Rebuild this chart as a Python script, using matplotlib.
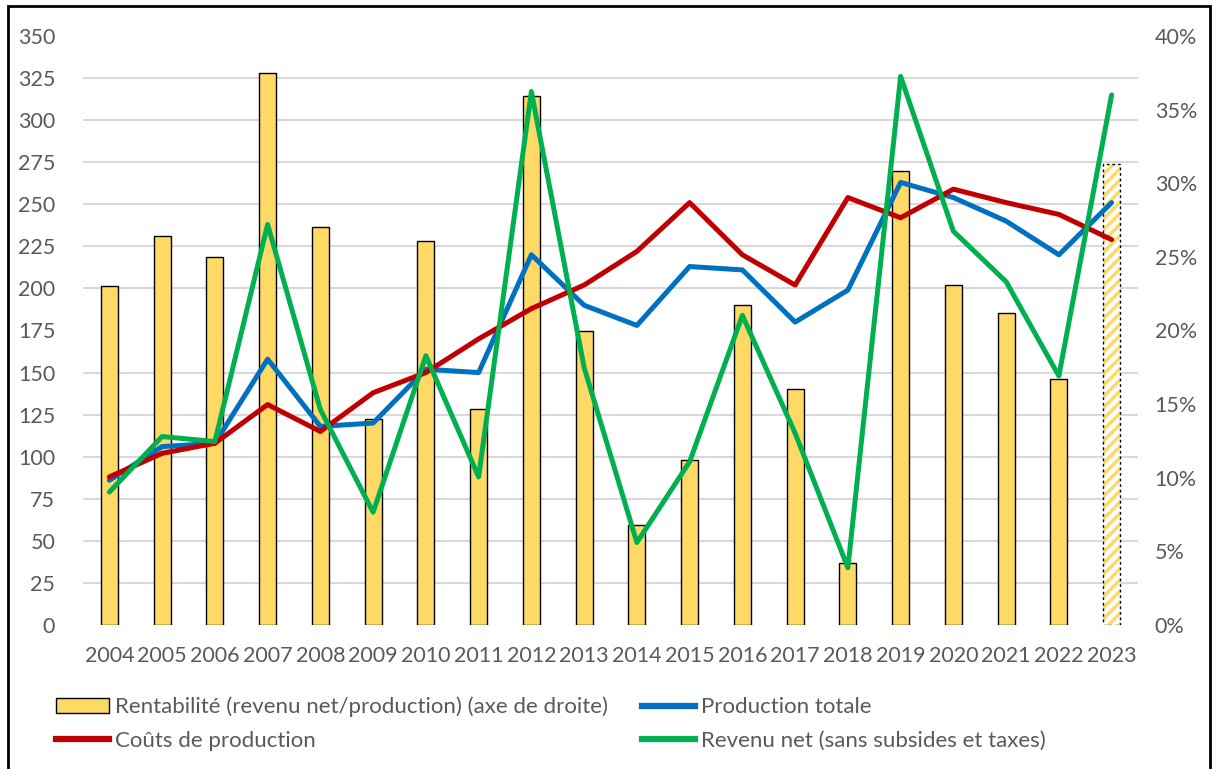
import numpy as np
import matplotlib
matplotlib.use("Agg")
import matplotlib.pyplot as plt
from matplotlib.patches import Patch, Rectangle
from matplotlib.lines import Line2D
from matplotlib.ticker import FuncFormatter

plt.rcParams['font.family'] = ['Lato', 'DejaVu Sans']
plt.rcParams['hatch.linewidth'] = 2.5

years = [str(y) for y in range(2004, 2024)]

# left axis series
production_totale = [86, 106, 108, 158, 118, 120, 152, 150, 220, 190, 178, 213, 211, 180, 199, 263, 254, 240, 220, 251]
couts_production = [88, 102, 108, 131, 115, 138, 150, 170, 188, 202, 222, 251, 220, 202, 254, 242, 259, 251, 244, 229]
revenu_net = [79, 112, 109, 238, 128, 67, 160, 88, 317, 153, 49, 97, 184, 114, 34, 326, 234, 204, 148, 315]

# right axis series (fraction)
rentabilite = [0.230, 0.264, 0.250, 0.375, 0.270, 0.140, 0.261, 0.147, 0.359, 0.200,
               0.068, 0.112, 0.217, 0.160, 0.042, 0.308, 0.231, 0.212, 0.167, 0.313]

left_ticks = list(range(0, 351, 25))
right_ticks = [0, 0.05, 0.10, 0.15, 0.20, 0.25, 0.30, 0.35, 0.40]

label_bar = "Rentabilité (revenu net/production) (axe de droite)"
label_prod = "Production totale"
label_cout = "Coûts de production"
label_rev = "Revenu net (sans subsides et taxes)"

c_bar = '#FFD966'
c_prod = '#0070C0'
c_cout = '#C00000'
c_rev = '#00B050'
c_text = '#595959'

W, H = 1213, 769
fig = plt.figure(figsize=(W / 100, H / 100), dpi=100)
rect = [83 / W, 1 - 625 / H, (1138 - 83) / W, (625 - 36) / H]
ax = fig.add_axes(rect)
ax2 = ax.twinx()

x = np.arange(len(years))

# bars on the right axis, drawn below lines
ax.set_zorder(2)
ax.patch.set_visible(False)
ax2.set_zorder(1)

bw = 0.32
ax2.bar(x[:-1], rentabilite[:-1], width=bw, color=c_bar, edgecolor='black', linewidth=1.0, zorder=2)
ax2.bar(x[-1:], rentabilite[-1:], width=bw, color='white', edgecolor=c_bar, hatch='///', linewidth=0, zorder=2)
ax2.bar(x[-1:], rentabilite[-1:], width=bw, color='none', edgecolor='black', linestyle=(0, (2, 2)), linewidth=1.0, zorder=3)

ax.plot(x, production_totale, color=c_prod, lw=3.6, solid_joinstyle='round', solid_capstyle='round')
ax.plot(x, couts_production, color=c_cout, lw=3.6, solid_joinstyle='round', solid_capstyle='round')
ax.plot(x, revenu_net, color=c_rev, lw=3.6, solid_joinstyle='round', solid_capstyle='round')

ax.set_xlim(-0.5, len(years) - 0.5)
ax.set_ylim(0, 350)
ax2.set_ylim(0, 0.40)

ax.set_yticks(left_ticks)
ax2.set_yticks(right_ticks)
ax2.yaxis.set_major_formatter(FuncFormatter(lambda v, p: f"{v * 100:.0f}%"))
# gridlines follow the left scale, drawn behind the bars
ax2.set_yticks(np.linspace(0, 0.40, 15), minor=True)
ax2.grid(which='minor', axis='y', color='#D9D9D9', lw=1.5, zorder=0)
ax2.set_axisbelow(True)

ax.set_xticks(x)
ax.set_xticklabels(years)

fs = 15.5
for a in (ax, ax2):
    for s in a.spines.values():
        s.set_visible(False)
    a.tick_params(axis='both', which='both', length=0, colors=c_text, labelsize=fs)
ax.tick_params(axis='y', pad=20)
ax2.tick_params(axis='y', pad=12)
ax.tick_params(axis='x', pad=15)

handles = [
    Patch(facecolor=c_bar, edgecolor='black', linewidth=1.0),
    Line2D([], [], color=c_cout, lw=4.5),
    Line2D([], [], color=c_prod, lw=4.5),
    Line2D([], [], color=c_rev, lw=4.5),
]
labels = [label_bar, label_cout, label_prod, label_rev]
leg = fig.legend(handles, labels, ncol=2, loc='upper left', bbox_to_anchor=(47 / W, 1 - 688 / H),
                 frameon=False, fontsize=16, handlelength=2.4, handletextpad=0.28,
                 columnspacing=1.5, labelspacing=0.6, borderaxespad=0)
for t in leg.get_texts():
    t.set_color(c_text)

fig.patches.append(Rectangle((8 / W, -0.01), (1210 - 8) / W, 1 - 6 / H + 0.01,
                             transform=fig.transFigure, fill=False, edgecolor='black', lw=2))

fig.savefig("out.png", dpi=100)
